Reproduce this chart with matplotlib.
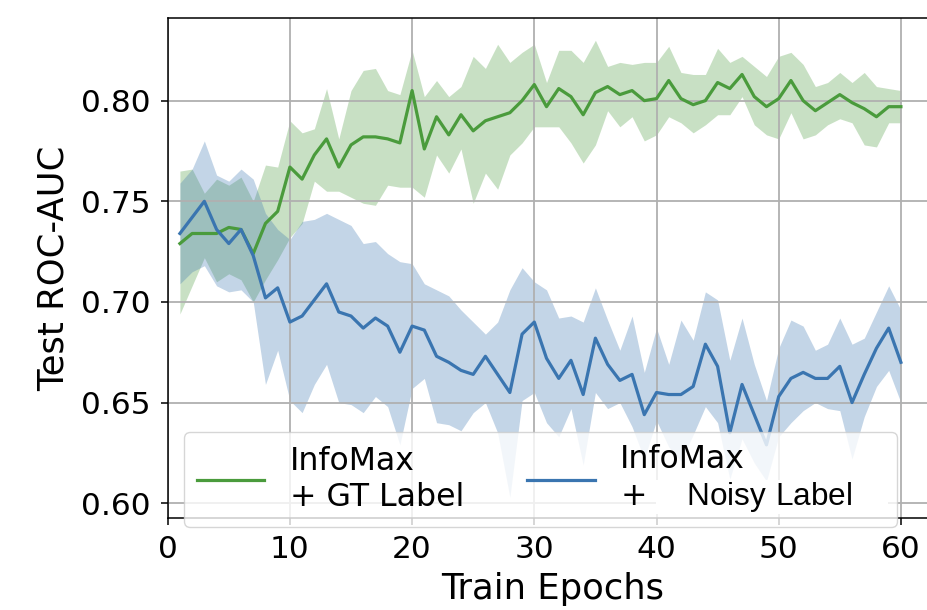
import matplotlib
matplotlib.use('Agg')
import matplotlib.pyplot as plt
from matplotlib.patches import Rectangle

# "Noisy Label" in the reference legend is set in an Arial-like face
plt.rcParams['mathtext.fontset'] = 'custom'
plt.rcParams['mathtext.sf'] = 'Liberation Sans'

# Epochs 1..60
epochs = list(range(1, 61))

# InfoMax + GT Label (mean and band)
gt_mean = [0.729, 0.734, 0.734, 0.734, 0.737, 0.736, 0.724, 0.739, 0.745, 0.767,
           0.761, 0.773, 0.781, 0.767, 0.778, 0.782, 0.782, 0.781, 0.779, 0.805,
           0.776, 0.792, 0.783, 0.793, 0.785, 0.790, 0.792, 0.794, 0.800, 0.808,
           0.797, 0.806, 0.802, 0.793, 0.804, 0.807, 0.803, 0.805, 0.800, 0.801,
           0.810, 0.801, 0.798, 0.800, 0.809, 0.806, 0.813, 0.802, 0.797, 0.801,
           0.810, 0.800, 0.795, 0.799, 0.803, 0.799, 0.796, 0.792, 0.797, 0.797]
gt_upper = [0.765, 0.766, 0.754, 0.761, 0.758, 0.762, 0.750, 0.768, 0.767, 0.790,
            0.784, 0.786, 0.806, 0.781, 0.805, 0.815, 0.816, 0.805, 0.803, 0.825,
            0.802, 0.810, 0.802, 0.807, 0.822, 0.816, 0.828, 0.819, 0.824, 0.828,
            0.809, 0.825, 0.825, 0.819, 0.830, 0.817, 0.819, 0.818, 0.819, 0.819,
            0.827, 0.814, 0.813, 0.813, 0.826, 0.819, 0.822, 0.817, 0.812, 0.822,
            0.824, 0.818, 0.807, 0.809, 0.814, 0.809, 0.814, 0.807, 0.806, 0.805]
gt_lower = [0.694, 0.708, 0.722, 0.710, 0.714, 0.711, 0.700, 0.711, 0.721, 0.732,
            0.739, 0.760, 0.755, 0.755, 0.752, 0.749, 0.748, 0.758, 0.757, 0.757,
            0.752, 0.773, 0.764, 0.776, 0.749, 0.764, 0.756, 0.773, 0.779, 0.787,
            0.787, 0.787, 0.779, 0.769, 0.778, 0.795, 0.787, 0.792, 0.780, 0.783,
            0.792, 0.789, 0.784, 0.788, 0.793, 0.793, 0.802, 0.788, 0.783, 0.781,
            0.794, 0.781, 0.783, 0.788, 0.791, 0.789, 0.778, 0.777, 0.789, 0.789]

# InfoMax + Noisy Label (mean and band)
noisy_mean = [0.734, 0.742, 0.750, 0.736, 0.729, 0.736, 0.723, 0.702, 0.707, 0.690,
              0.693, 0.701, 0.709, 0.695, 0.693, 0.687, 0.692, 0.688, 0.675, 0.688,
              0.686, 0.673, 0.670, 0.666, 0.664, 0.673, 0.664, 0.655, 0.684, 0.690,
              0.672, 0.662, 0.671, 0.654, 0.682, 0.669, 0.661, 0.664, 0.644, 0.655,
              0.654, 0.654, 0.658, 0.679, 0.668, 0.635, 0.659, 0.644, 0.629, 0.653,
              0.662, 0.665, 0.662, 0.662, 0.668, 0.650, 0.664, 0.677, 0.687, 0.670]
noisy_upper = [0.759, 0.766, 0.780, 0.763, 0.760, 0.766, 0.761, 0.744, 0.736, 0.731,
               0.740, 0.741, 0.744, 0.741, 0.738, 0.729, 0.730, 0.724, 0.720, 0.719,
               0.709, 0.706, 0.703, 0.696, 0.690, 0.684, 0.690, 0.706, 0.717, 0.710,
               0.706, 0.692, 0.693, 0.690, 0.707, 0.691, 0.676, 0.693, 0.665, 0.687,
               0.669, 0.691, 0.681, 0.705, 0.701, 0.671, 0.692, 0.669, 0.651, 0.677,
               0.691, 0.688, 0.676, 0.679, 0.692, 0.679, 0.682, 0.695, 0.708, 0.696]
noisy_lower = [0.709, 0.715, 0.718, 0.708, 0.705, 0.706, 0.700, 0.659, 0.676, 0.651,
               0.645, 0.659, 0.669, 0.650, 0.649, 0.645, 0.653, 0.648, 0.629, 0.657,
               0.662, 0.640, 0.639, 0.636, 0.645, 0.650, 0.635, 0.603, 0.651, 0.655,
               0.640, 0.633, 0.647, 0.619, 0.655, 0.647, 0.650, 0.638, 0.622, 0.641,
               0.628, 0.621, 0.634, 0.648, 0.640, 0.612, 0.632, 0.620, 0.611, 0.633,
               0.640, 0.646, 0.650, 0.647, 0.646, 0.622, 0.643, 0.658, 0.666, 0.650]

x_ticks = [0, 10, 20, 30, 40, 50, 60]
y_ticks = [0.60, 0.65, 0.70, 0.75, 0.80]

green = '#4a9b3c'
blue = '#3a75b0'

fig = plt.figure(figsize=(9.27, 6.10), dpi=100)
ax = fig.add_axes([0.1809, 0.1508, 0.8305, 0.8197])

ax.fill_between(epochs, gt_lower, gt_upper, color=green, alpha=0.3, linewidth=0)
ax.fill_between(epochs, noisy_lower, noisy_upper, color=blue, alpha=0.3, linewidth=0)
ax.plot(epochs, gt_mean, color=green, linewidth=2.3, label='InfoMax\n+ GT Label')
ax.plot(epochs, noisy_mean, color=blue, linewidth=2.3,
        label='InfoMax\n+    $\\mathsf{Noisy\\ Label}$    ')

ax.set_xlim(0, 63)
ax.set_ylim(0.59265, 0.84106)
ax.set_xticks(x_ticks)
ax.set_yticks(y_ticks)
ax.set_yticklabels([f'{v:.2f}' for v in y_ticks])
ax.tick_params(labelsize=22.5, length=5, width=1.1, pad=7)
ax.grid(True, color='#b0b0b0', linewidth=1.3)
for s in ax.spines.values():
    s.set_linewidth(1.1)

ax.set_xlabel('Train Epochs', fontsize=25.5, labelpad=6)
ax.set_ylabel('Test ROC-AUC', fontsize=25.5, labelpad=8)

ax.legend(loc='lower left', bbox_to_anchor=(0.0212, -0.018), borderaxespad=0,
          ncol=2, fontsize=22.7, handlelength=2.15, columnspacing=2.0,
          handletextpad=0.8)

# opaque white block behind "Noisy Label", under the legend
ax.add_patch(Rectangle((0.634, 0.008), 0.301, 0.068, transform=ax.transAxes,
                       facecolor='white', edgecolor='none', zorder=4.9,
                       clip_on=False))

fig.savefig('out.png', dpi=100)
